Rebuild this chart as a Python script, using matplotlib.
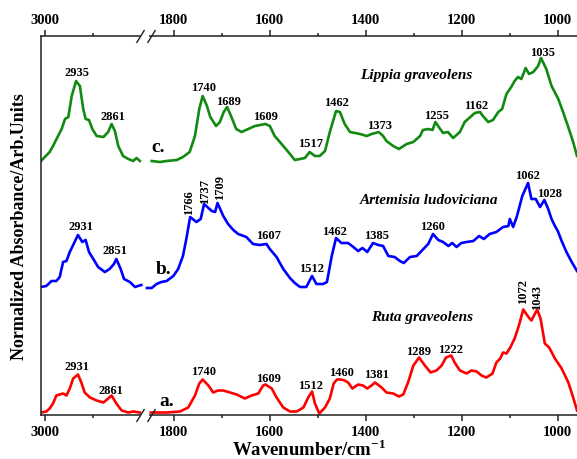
import numpy as np
import matplotlib
matplotlib.use("Agg")
import matplotlib.pyplot as plt
from matplotlib.path import Path

# ---------------- spectra (wavenumber in cm-1, normalized absorbance) ----------------
# a. Ruta graveolens
ruta_wn_hi = [3008, 2997, 2990, 2983, 2976, 2969, 2962, 2955, 2948, 2941, 2931, 2924,
              2917, 2906, 2892, 2878, 2868, 2861, 2851, 2840, 2826, 2816, 2802]
ruta_abs_hi = [0.00, 0.01, 0.04, 0.09, 0.17, 0.18, 0.19, 0.17, 0.24, 0.34, 0.38, 0.30,
               0.20, 0.15, 0.12, 0.10, 0.14, 0.17, 0.09, 0.02, 0.00, 0.01, 0.00]
ruta_wn_lo = [1848, 1815, 1787, 1770, 1756, 1747, 1740, 1728, 1718, 1708,
              1697, 1683, 1669, 1652, 1638, 1624, 1614, 1609, 1596, 1586,
              1572, 1558, 1544, 1530, 1520, 1512, 1506, 1497, 1485, 1475,
              1467, 1460, 1452, 1444, 1437, 1428, 1416, 1406, 1397, 1388,
              1381, 1367, 1357, 1343, 1331, 1322, 1312, 1301, 1289, 1277,
              1265, 1253, 1242, 1233, 1222, 1215, 1204, 1190, 1180, 1169,
              1159, 1149, 1136, 1128, 1120, 1114, 1107, 1099, 1090, 1081,
              1072, 1062, 1055, 1043, 1036, 1027, 1018, 1006, 992, 978,
              968, 960]
ruta_abs_lo = [0.00, 0.00, 0.01, 0.05, 0.17, 0.29, 0.33, 0.27, 0.20, 0.22,
               0.22, 0.20, 0.18, 0.14, 0.17, 0.19, 0.27, 0.28, 0.24, 0.15,
               0.05, 0.01, 0.01, 0.05, 0.15, 0.21, 0.09, -0.01, 0.05, 0.14,
               0.29, 0.33, 0.33, 0.32, 0.30, 0.24, 0.28, 0.27, 0.24, 0.27,
               0.30, 0.25, 0.20, 0.19, 0.16, 0.18, 0.30, 0.47, 0.55, 0.47,
               0.40, 0.42, 0.47, 0.55, 0.57, 0.50, 0.42, 0.39, 0.42, 0.41,
               0.37, 0.35, 0.39, 0.50, 0.54, 0.60, 0.59, 0.65, 0.74, 0.87,
               1.03, 0.96, 0.92, 1.03, 0.94, 0.69, 0.65, 0.54, 0.44, 0.30,
               0.15, 0.02]

# b. Artemisia ludoviciana
artemisia_wn_hi = [3008, 2997, 2986, 2976, 2969, 2962, 2955, 2948, 2940, 2931, 2922, 2915,
                   2908, 2899, 2889, 2875, 2865, 2856, 2851, 2842, 2835, 2823, 2812, 2806, 2799]
artemisia_abs_hi = [0.01, 0.02, 0.07, 0.07, 0.11, 0.26, 0.27, 0.36, 0.44, 0.53, 0.46, 0.48,
                    0.36, 0.29, 0.21, 0.16, 0.19, 0.24, 0.29, 0.19, 0.09, 0.06, 0.01, 0.02, 0.03]
artemisia_wn_lo = [1856, 1846, 1836, 1826, 1815, 1801, 1791, 1781, 1774, 1766,
                   1753, 1744, 1737, 1721, 1714, 1709, 1697, 1687, 1676, 1666,
                   1649, 1635, 1621, 1607, 1600, 1586, 1572, 1558, 1548, 1537,
                   1524, 1512, 1503, 1489, 1481, 1471, 1462, 1451, 1437, 1426,
                   1416, 1407, 1397, 1385, 1374, 1364, 1353, 1340, 1329, 1321,
                   1308, 1294, 1284, 1270, 1260, 1249, 1239, 1228, 1220, 1211,
                   1201, 1190, 1176, 1164, 1154, 1142, 1128, 1114, 1103, 1100,
                   1093, 1085, 1074, 1062, 1055, 1046, 1037, 1028, 1020, 1013,
                   1006, 1000, 992, 982, 971, 960]
artemisia_abs_lo = [0.00, 0.00, 0.04, 0.06, 0.07, 0.12, 0.19, 0.32, 0.49, 0.71,
                    0.66, 0.69, 0.84, 0.77, 0.76, 0.85, 0.72, 0.64, 0.58, 0.54,
                    0.51, 0.44, 0.43, 0.44, 0.39, 0.31, 0.19, 0.10, 0.05, 0.01,
                    0.01, 0.12, 0.04, 0.04, 0.06, 0.32, 0.50, 0.45, 0.45, 0.41,
                    0.37, 0.40, 0.36, 0.45, 0.43, 0.42, 0.32, 0.31, 0.27, 0.25,
                    0.31, 0.32, 0.37, 0.44, 0.54, 0.48, 0.46, 0.42, 0.45, 0.41,
                    0.45, 0.46, 0.47, 0.52, 0.49, 0.54, 0.56, 0.61, 0.62, 0.69,
                    0.61, 0.72, 0.92, 1.05, 0.89, 0.89, 0.81, 0.88, 0.79, 0.69,
                    0.62, 0.57, 0.47, 0.36, 0.26, 0.17]

# c. Lippia graveolens
lippia_wn_hi = [3008, 2990, 2983, 2965, 2958, 2951, 2944, 2935, 2927, 2920, 2915, 2908,
                2901, 2892, 2878, 2868, 2861, 2854, 2847, 2837, 2826, 2816, 2809, 2802]
lippia_abs_hi = [0.00, 0.09, 0.15, 0.32, 0.42, 0.44, 0.65, 0.80, 0.75, 0.52, 0.42, 0.41,
                 0.32, 0.25, 0.24, 0.29, 0.37, 0.30, 0.15, 0.05, 0.02, 0.00, 0.03, 0.00]
lippia_wn_lo = [1846, 1829, 1815, 1794, 1781, 1767, 1756, 1747, 1740, 1731,
                1724, 1712, 1704, 1696, 1689, 1680, 1670, 1659, 1645, 1631,
                1620, 1609, 1600, 1590, 1579, 1572, 1558, 1548, 1537, 1527,
                1517, 1506, 1496, 1485, 1475, 1462, 1454, 1444, 1433, 1412,
                1398, 1388, 1380, 1373, 1364, 1357, 1343, 1331, 1315, 1301,
                1287, 1281, 1270, 1261, 1255, 1248, 1239, 1229, 1218, 1204,
                1194, 1180, 1173, 1162, 1156, 1145, 1135, 1124, 1116, 1107,
                1097, 1090, 1083, 1076, 1067, 1060, 1051, 1041, 1035, 1024,
                1013, 999, 989, 979, 968, 960]
lippia_abs_lo = [0.00, -0.01, 0.00, 0.01, 0.04, 0.09, 0.25, 0.52, 0.65, 0.55,
                 0.44, 0.35, 0.39, 0.49, 0.54, 0.44, 0.32, 0.29, 0.32, 0.35,
                 0.36, 0.37, 0.35, 0.25, 0.19, 0.15, 0.07, 0.01, 0.02, 0.03,
                 0.09, 0.05, 0.05, 0.10, 0.29, 0.50, 0.49, 0.37, 0.29, 0.27,
                 0.25, 0.27, 0.28, 0.29, 0.25, 0.20, 0.15, 0.12, 0.17, 0.19,
                 0.25, 0.31, 0.32, 0.31, 0.39, 0.34, 0.28, 0.29, 0.23, 0.29,
                 0.39, 0.45, 0.48, 0.49, 0.45, 0.39, 0.41, 0.49, 0.52, 0.67,
                 0.74, 0.80, 0.84, 0.82, 0.93, 0.87, 0.89, 0.95, 1.03, 0.92,
                 0.75, 0.62, 0.49, 0.35, 0.19, 0.05]

# vertical stacking offsets of the three spectra
offsets = {"ruta": 0.025, "artemisia": 1.27, "lippia": 2.54}
colors = {"ruta": "#ff0000", "artemisia": "#0000ff", "lippia": "#108a10"}

species_names = ["Ruta graveolens", "Artemisia ludoviciana", "Lippia graveolens"]
panel_letters = ["a.", "b.", "c."]

major_ticks = [3000, 1800, 1600, 1400, 1200, 1000]
minor_ticks = [2900, 1700, 1500, 1300, 1100]

# ---------------- broken wavenumber axis (2790 -> 1860 collapsed) ----------------
CUT_LO, CUT_HI, GAP = 1858.0, 2793.25, 4.0
_w = [0.0, CUT_LO, CUT_HI, 6000.0]
_f = [0.0, CUT_LO, CUT_LO + GAP, 6000.0 - (CUT_HI - CUT_LO - GAP)]


def fwd(w):
    return np.interp(np.asarray(w, dtype=float), _w, _f)


def inv(f):
    return np.interp(np.asarray(f, dtype=float), _f, _w)


plt.rcParams["font.family"] = ["Liberation Serif", "DejaVu Serif"]
plt.rcParams["font.weight"] = "bold"
plt.rcParams["mathtext.fontset"] = "custom"
plt.rcParams["mathtext.rm"] = "Liberation Serif:bold"
plt.rcParams["mathtext.bf"] = "Liberation Serif:bold"

fig = plt.figure(figsize=(5.77, 4.60), dpi=100)
ax = fig.add_axes([41 / 577, 1 - 416 / 460, (577 - 41) / 577, (416 - 37) / 460])
ax.set_xscale("function", functions=(fwd, inv))
ax.set_xlim(3008, 960)
ax.set_ylim(0, 3.79)

spectra = [
    ("ruta", ruta_wn_hi, ruta_abs_hi, ruta_wn_lo, ruta_abs_lo),
    ("artemisia", artemisia_wn_hi, artemisia_abs_hi, artemisia_wn_lo, artemisia_abs_lo),
    ("lippia", lippia_wn_hi, lippia_abs_hi, lippia_wn_lo, lippia_abs_lo),
]
for key, wh, ah, wl, al in spectra:
    off = offsets[key]
    ax.plot(wh, np.asarray(ah) + off, color=colors[key], lw=1.9, solid_joinstyle="round")
    ax.plot(wl, np.asarray(al) + off, color=colors[key], lw=1.9, solid_joinstyle="round")

# ---------------- peak labels ----------------
lab_fs = 9
peak_labels = [
    # (text, x, y, rotation)
    ("2931", 2933, 0.49, 0), ("2861", 2862, 0.25, 0), ("1740", 1739, 0.44, 0),
    ("1609", 1603, 0.37, 0), ("1512", 1516, 0.30, 0), ("1460", 1451, 0.43, 0),
    ("1381", 1378, 0.41, 0), ("1289", 1291, 0.64, 0), ("1222", 1224, 0.66, 0),
    ("1072", 1073, 1.24, 90), ("1043", 1044, 1.19, 90),
    ("2931", 2924, 1.89, 0), ("2851", 2854, 1.65, 0), ("1766", 1769, 2.13, 90),
    ("1737", 1735, 2.24, 90), ("1709", 1704, 2.28, 90), ("1607", 1603, 1.80, 0),
    ("1512", 1513, 1.47, 0), ("1462", 1465, 1.84, 0), ("1385", 1378, 1.80, 0),
    ("1260", 1261, 1.89, 0), ("1062", 1064, 2.40, 0), ("1028", 1018, 2.22, 0),
    ("2935", 2933, 3.43, 0), ("2861", 2858, 2.99, 0), ("1740", 1739, 3.28, 0),
    ("1689", 1687, 3.14, 0), ("1609", 1610, 2.99, 0), ("1517", 1515, 2.72, 0),
    ("1462", 1461, 3.13, 0), ("1373", 1371, 2.90, 0), ("1255", 1253, 3.00, 0),
    ("1162", 1171, 3.10, 0), ("1035", 1032, 3.63, 0),
]
for txt, x, y, rot in peak_labels:
    ax.text(x, y, txt, ha="center", va="center", rotation=rot,
            fontsize=lab_fs, fontweight="bold")

name_pos = [(1283, 0.98), (1268, 2.15), (1294, 3.40)]
for name, (x, y) in zip(species_names, name_pos):
    ax.text(x, y, name, ha="center", va="center", fontsize=11,
            fontweight="bold", fontstyle="italic")

letter_pos = [(1815, 0.14), (1822, 1.46), (1833, 2.69)]
for lt, (x, y) in zip(panel_letters, letter_pos):
    ax.text(x, y, lt, ha="center", va="center", fontsize=14, fontweight="bold")

# ---------------- axes styling ----------------
ax.set_xticks(major_ticks)
ax.set_xticklabels([str(t) for t in major_ticks])
ax.set_xticks(minor_ticks, minor=True)
ax.set_yticks([])
ax.tick_params(axis="x", which="both", direction="out", top=True, bottom=True,
               labeltop=True, labelbottom=True, width=1.1, color="#222222")
ax.tick_params(axis="x", which="major", length=4, pad=3, labelsize=10.5)
ax.tick_params(axis="x", which="minor", length=2.2)
for lbl in ax.get_xticklabels():
    lbl.set_fontweight("bold")
ax.spines["right"].set_visible(False)
for side in ("left", "top", "bottom"):
    ax.spines[side].set_linewidth(1.1)
    ax.spines[side].set_color("#222222")

ax.set_xlabel(r"Wavenumber/cm$^{-1}$", fontsize=13.5, fontweight="bold", labelpad=0)
ax.set_ylabel("Normalized Absorbance/Arb.Units", fontsize=13, fontweight="bold", labelpad=9)

# break marks on the top and bottom spines
w_break = float(inv(CUT_LO + GAP / 2))
slash = Path([(-9, -6.5), (-1, 6.5), (2, -6.5), (10, 6.5)],
             [Path.MOVETO, Path.LINETO, Path.MOVETO, Path.LINETO])
for yy in (0, 1):
    ax.plot([w_break], [yy], transform=ax.get_xaxis_transform(), marker="_",
            markersize=6, markeredgewidth=3, color="white", clip_on=False, zorder=5)
    ax.plot([w_break], [yy], transform=ax.get_xaxis_transform(), marker=slash,
            markersize=14.4, markeredgewidth=1.0, color="#222222", fillstyle="none",
            linestyle="none", clip_on=False, zorder=6)

fig.savefig("out.png", dpi=100)
